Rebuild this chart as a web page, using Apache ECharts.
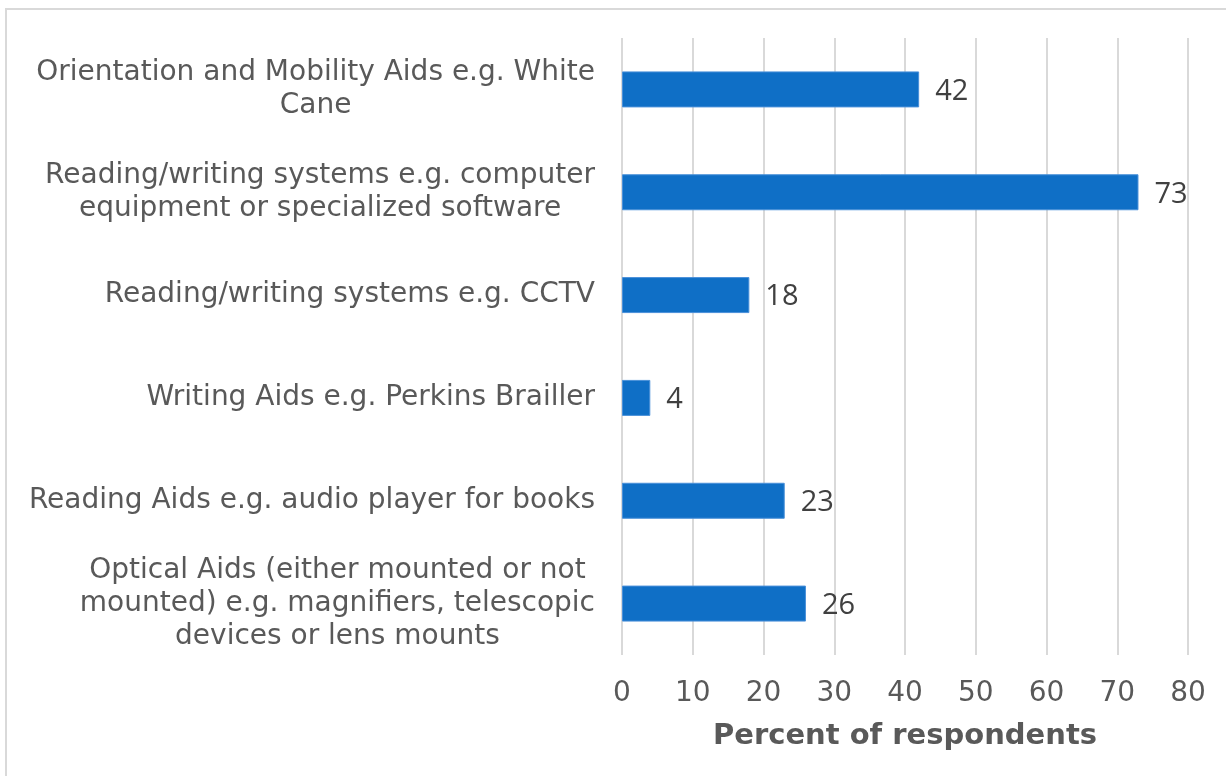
<!DOCTYPE html>
<html>
<head>
<meta charset="utf-8">
<script src="https://cdn.jsdelivr.net/npm/echarts@6/dist/echarts.min.js"></script>
<style>
  html, body { margin: 0; padding: 0; background: #fff; }
  #frame {
    position: absolute; left: 5px; top: 8px; width: 1240px; height: 790px;
    border-left: 2px solid #d9d9d9; border-top: 2px solid #d9d9d9;
  }
  #chart { position: absolute; left: 0; top: 0; width: 1226px; height: 776px; }
</style>
</head>
<body>
<div id="frame"></div>
<div id="chart"></div>
<script>
// Assistive devices used, top to bottom
const categories = [
  'Orientation and Mobility Aids e.g. White\nCane',
  'Reading/writing systems e.g. computer\nequipment or specialized software',
  'Reading/writing systems e.g. CCTV',
  'Writing Aids e.g. Perkins Brailler',
  'Reading Aids e.g. audio player for books',
  'Optical Aids (either mounted or not\nmounted) e.g. magnifiers, telescopic\ndevices or lens mounts'
];
const percentValues = [42, 73, 18, 4, 23, 26];
const xTicks = { min: 0, max: 80, interval: 10 };
const axisTitle = 'Percent of respondents';

const labelFont = '"DejaVu Sans", Verdana, sans-serif';

const chart = echarts.init(document.getElementById('chart'), null, { renderer: 'canvas' });
chart.setOption({
  animation: false,
  backgroundColor: 'transparent',
  grid: { left: 622, right: 38, top: 38, bottom: 121, containLabel: false },
  xAxis: {
    type: 'value',
    min: xTicks.min, max: xTicks.max, interval: xTicks.interval,
    axisLine: { show: false },
    axisTick: { show: false },
    splitLine: { show: true, lineStyle: { color: '#d9d9d9', width: 2 } },
    axisLabel: { color: '#595959', fontFamily: labelFont, fontSize: 28, margin: 25 },
    name: axisTitle,
    nameLocation: 'middle',
    nameGap: 67,
    nameTextStyle: { color: '#595959', fontFamily: labelFont, fontSize: 29, fontWeight: 'bold' }
  },
  yAxis: {
    type: 'category',
    inverse: true,
    data: categories,
    axisLine: { show: false },
    axisTick: { show: false },
    axisLabel: {
      margin: 27,
      align: 'right',
      formatter: v => '{c|' + v + '}',
      rich: {
        c: {
          align: 'center',
          color: '#595959', fontFamily: labelFont, fontSize: 28, lineHeight: 33
        }
      }
    }
  },
  series: [{
    type: 'bar',
    data: percentValues,
    barWidth: 36,
    itemStyle: { color: '#0F6FC6', borderColor: '#4a90d9', borderWidth: 1 },
    label: {
      show: true, position: 'right', distance: 16, offset: [0, 2],
      color: '#404040', fontFamily: '"Open Sans", sans-serif', fontSize: 29
    }
  }]
});
</script>
</body>
</html>
